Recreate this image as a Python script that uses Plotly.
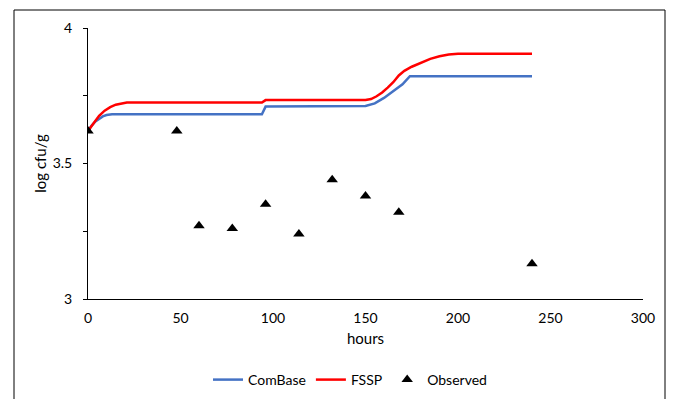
import plotly.graph_objects as go

# Data
combase_t = [0, 2, 4, 6, 8, 10, 13, 94, 96, 150, 155, 160, 165, 170, 174, 240]
combase_v = [3.62, 3.640, 3.655, 3.666, 3.674, 3.679, 3.682, 3.682, 3.710, 3.712, 3.722, 3.742, 3.766, 3.792, 3.822, 3.822]

fssp_t = [0, 3, 6, 9, 12, 15, 18, 21, 94, 96, 150, 153, 156, 159, 162, 165, 168, 171, 175, 180, 185, 190, 195, 200, 240]
fssp_v = [3.62, 3.650, 3.676, 3.695, 3.708, 3.717, 3.722, 3.725, 3.725, 3.734, 3.734, 3.738, 3.748, 3.762, 3.780, 3.800, 3.825, 3.842, 3.857, 3.873, 3.886, 3.896, 3.902, 3.905, 3.905]

obs_t = [0, 48, 60, 78, 96, 114, 132, 150, 168, 240]
obs_v = [3.62, 3.62, 3.27, 3.26, 3.35, 3.24, 3.44, 3.38, 3.32, 3.13]

x_ticks = [0, 50, 100, 150, 200, 250, 300]
y_ticks = [3, 3.25, 3.5, 3.75, 4]
y_ticktext = ["3", "", "3.5", "", "4"]

FONT = "Lato"

fig = go.Figure()
fig.add_trace(go.Scatter(x=combase_t, y=combase_v, mode="lines", name="ComBase",
                         line=dict(color="#4472C4", width=2.5)))
fig.add_trace(go.Scatter(x=fssp_t, y=fssp_v, mode="lines", name="FSSP",
                         line=dict(color="#FF0000", width=2.5)))
fig.add_trace(go.Scatter(x=obs_t, y=obs_v, mode="markers", name="Observed",
                         marker=dict(symbol="triangle-up", size=10, color="black")))

L, R, T, B = 88, 33, 28, 100
W, H = 676, 399
pw, ph = W - L - R, H - T - B

fig.update_layout(
    width=W, height=H,
    margin=dict(l=L, r=R, t=T, b=B, autoexpand=False),
    paper_bgcolor="white", plot_bgcolor="white",
    font=dict(family=FONT, size=14, color="black"),
    showlegend=True,
    legend=dict(orientation="h", x=(350 - L) / pw, xanchor="center",
                y=(H - B - 380) / ph, yanchor="middle",
                font=dict(family=FONT, size=14, color="black"),
                bgcolor="rgba(0,0,0,0)", itemwidth=30),
    xaxis=dict(range=[0, 300], tickvals=x_ticks, showgrid=False, zeroline=False,
               showline=True, linecolor="black", linewidth=1, ticks="",
               tickfont=dict(family=FONT, size=14), ticklabelstandoff=6,
               automargin=False,
               title=dict(text="hours", font=dict(family=FONT, size=15), standoff=8)),
    yaxis=dict(range=[3, 4], tickvals=y_ticks, ticktext=y_ticktext, showgrid=False,
               zeroline=False, showline=True, linecolor="black", linewidth=1,
               ticks="outside", ticklen=4, tickcolor="black",
               tickfont=dict(family=FONT, size=14), ticklabelstandoff=8,
               automargin=False,
               title=dict(text="log cfu/g", font=dict(family=FONT, size=15), standoff=2)),
    shapes=[dict(type="rect", xref="paper", yref="paper",
                 x0=(14 - L) / pw, x1=(665 - L) / pw,
                 y0=-(B + 20) / ph, y1=1 + (T - 10) / ph,
                 line=dict(color="black", width=1), fillcolor="rgba(0,0,0,0)", layer="below")],
)

fig.write_html("out.html")
